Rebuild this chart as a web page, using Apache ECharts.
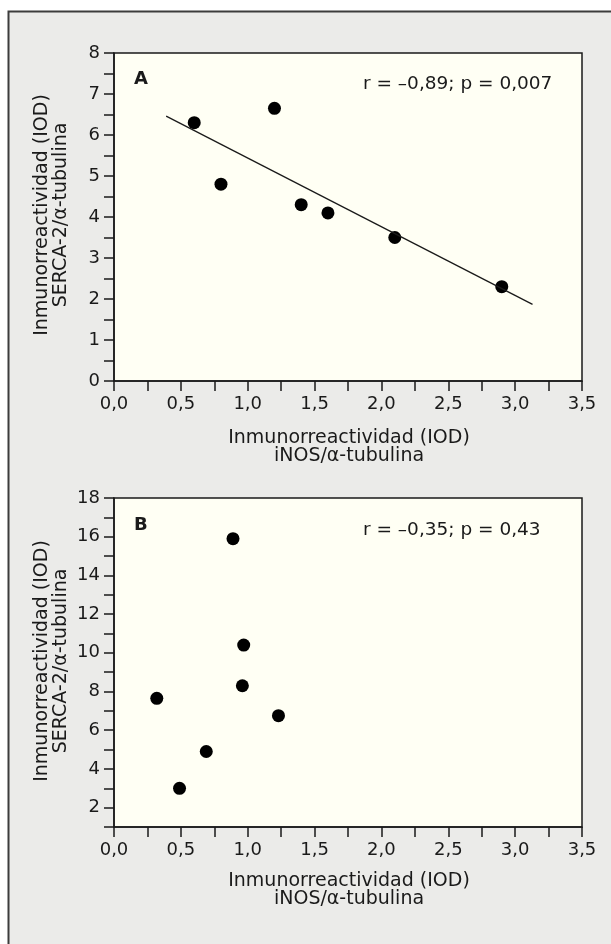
<!DOCTYPE html>
<html>
<head>
<meta charset="utf-8">
<script src="https://cdn.jsdelivr.net/npm/echarts@6/dist/echarts.min.js"></script>
<style>
  html, body { margin: 0; padding: 0; background: #fff; }
  #chart { width: 611px; height: 944px; }
</style>
</head>
<body>
<div id="chart"></div>
<script>
// panel A
var aX = [0.6, 0.8, 1.2, 1.4, 1.6, 2.1, 2.9];
var aY = [6.3, 4.8, 6.65, 4.3, 4.1, 3.5, 2.3];
var aLineX = [0.39, 3.13];
var aLineY = [6.46, 1.87];
// panel B
var bX = [0.32, 0.49, 0.69, 0.89, 0.96, 0.97, 1.23];
var bY = [7.65, 3.0, 4.9, 15.9, 8.3, 10.4, 6.75];

var xTitle = ['Inmunorreactividad (IOD)', 'iNOS/α-tubulina'];
var yTitle = ['Inmunorreactividad (IOD)', 'SERCA-2/α-tubulina'];
var statA = 'r = –0,89; p = 0,007';
var statB = 'r = –0,35; p = 0,43';

var FONT = 'DejaVu Sans';
var ink = '#1a1a1a';

function pairs(xs, ys) {
  return xs.map(function (x, i) { return [x, ys[i]]; });
}

function xAxisOpt(idx) {
  return {
    gridIndex: idx, type: 'value', min: 0, max: 3.5, interval: 0.25,
    axisLine: { lineStyle: { color: ink, width: 1.5 } },
    axisTick: { length: 10, lineStyle: { color: ink, width: 1.5 } },
    splitLine: { show: false },
    axisLabel: {
      margin: 14, color: ink, fontFamily: FONT, fontSize: 18,
      formatter: function (v) {
        return Math.abs(v * 2 - Math.round(v * 2)) < 1e-6 ? v.toFixed(1).replace('.', ',') : '';
      }
    }
  };
}

function yAxisOpt(idx, min, max, step, labelStep) {
  return {
    gridIndex: idx, type: 'value', min: min, max: max, interval: step,
    axisLine: { lineStyle: { color: ink, width: 1.5 } },
    axisTick: { length: 10, lineStyle: { color: ink, width: 1.5 } },
    splitLine: { show: false },
    axisLabel: {
      margin: 14, color: ink, fontFamily: FONT, fontSize: 18,
      formatter: function (v) {
        return Math.abs(v / labelStep - Math.round(v / labelStep)) < 1e-6 ? String(v) : '';
      }
    }
  };
}

function txt(x, y, s, opts) {
  opts = opts || {};
  return {
    type: 'text', x: x, y: y, rotation: opts.rot || 0, z: 10,
    style: {
      text: s, fill: ink, fontFamily: FONT,
      fontSize: opts.size || 18, fontWeight: opts.weight || 'normal',
      align: opts.align || 'center', verticalAlign: 'middle'
    }
  };
}

var chart = echarts.init(document.getElementById('chart'));
chart.setOption({
  animation: false,
  backgroundColor: '#fff',
  grid: [
    { left: 114, top: 53, width: 468, height: 328, show: true,
      backgroundColor: '#fffff4', borderColor: ink, borderWidth: 1.5 },
    { left: 114, top: 498, width: 468, height: 329, show: true,
      backgroundColor: '#fffff4', borderColor: ink, borderWidth: 1.5 }
  ],
  xAxis: [xAxisOpt(0), xAxisOpt(1)],
  yAxis: [yAxisOpt(0, 0, 8, 0.5, 1), yAxisOpt(1, 1, 18, 1, 2)],
  graphic: [
    { type: 'rect', z: -10, shape: { x: 8.5, y: 11.5, width: 700, height: 1000 },
      style: { fill: '#ebebe9', stroke: '#3c3c3c', lineWidth: 2 } },
    txt(134, 79, 'A', { align: 'left', weight: 'bold' }),
    txt(363, 84, statA, { align: 'left', size: 18.5 }),
    txt(349, 438, xTitle[0], { size: 19 }),
    txt(349, 456, xTitle[1], { size: 19 }),
    txt(42, 215, yTitle[0], { rot: Math.PI / 2, size: 19 }),
    txt(61, 215, yTitle[1], { rot: Math.PI / 2, size: 19 }),
    txt(134, 525, 'B', { align: 'left', weight: 'bold' }),
    txt(363, 530, statB, { align: 'left', size: 18.5 }),
    txt(349, 881, xTitle[0], { size: 19 }),
    txt(349, 899, xTitle[1], { size: 19 }),
    txt(42, 661, yTitle[0], { rot: Math.PI / 2, size: 19 }),
    txt(61, 661, yTitle[1], { rot: Math.PI / 2, size: 19 })
  ],
  series: [
    { type: 'line', xAxisIndex: 0, yAxisIndex: 0, data: pairs(aLineX, aLineY),
      showSymbol: false, lineStyle: { color: ink, width: 1.3 } },
    { type: 'scatter', xAxisIndex: 0, yAxisIndex: 0, data: pairs(aX, aY),
      symbolSize: 13, itemStyle: { color: '#000', opacity: 1 } },
    { type: 'scatter', xAxisIndex: 1, yAxisIndex: 1, data: pairs(bX, bY),
      symbolSize: 13, itemStyle: { color: '#000', opacity: 1 } }
  ]
});
</script>
</body>
</html>
